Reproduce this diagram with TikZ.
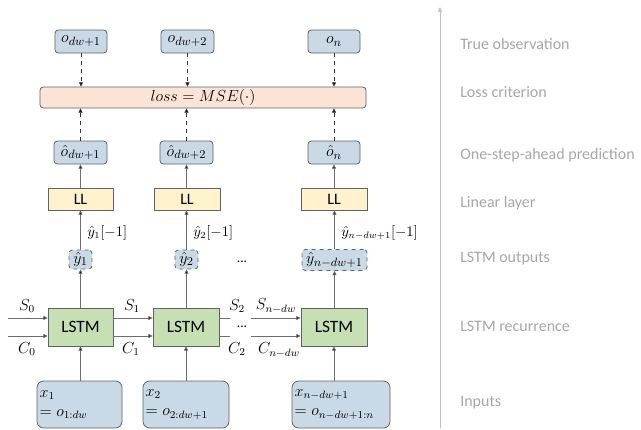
\documentclass[tikz,border=0pt]{standalone}
\usepackage{fontspec}
\setmainfont{Carlito}
\usetikzlibrary{arrows.meta}
\definecolor{boxblue}{HTML}{C9D9E5}
\definecolor{boxpeach}{HTML}{FBE4D6}
\definecolor{boxyellow}{HTML}{FFF2CC}
\definecolor{boxgreen}{HTML}{C6E0B4}
\definecolor{edgegray}{HTML}{5F6368}
\definecolor{linegray}{HTML}{6E6E6E}
\definecolor{axisgray}{HTML}{BFBFBF}
\definecolor{labelgray}{HTML}{A6A6A6}
\tikzset{
  base/.style={draw=edgegray, line width=0.6pt, inner sep=1pt, font=\fontsize{12.5}{14}\selectfont},
  obsbox/.style={base, fill=boxblue, rounded corners=2.5pt},
  lossbox/.style={base, fill=boxpeach, rounded corners=2.5pt},
  llbox/.style={base, fill=boxyellow, font=\fontsize{12}{14}\selectfont},
  lstmbox/.style={base, fill=boxgreen, font=\fontsize{13}{15}\selectfont},
  ybox/.style={base, fill=boxblue, dashed, rounded corners=2.5pt},
  inbox/.style={base, fill=boxblue, rounded corners=5pt, align=left, inner sep=2pt, font=\fontsize{12}{14.5}\selectfont},
  conn/.style={draw=linegray, line width=0.6pt, -{Triangle[length=3.2pt,width=3pt,fill=black]}},
  dconn/.style={conn, dashed, draw=black!80},
  plain/.style={draw=linegray, line width=0.6pt},
  sublabel/.style={font=\fontsize{10.5}{12}\selectfont, inner sep=0pt},
  statelabel/.style={font=\fontsize{12}{14}\selectfont, inner sep=0pt},
  rowlabel/.style={text=labelgray, anchor=west, inner sep=0pt, font=\fontsize{12}{14}\selectfont}
}
\begin{document}
\begin{tikzpicture}[x=0.75pt, y=-0.75pt]
\useasboundingbox (0,0) rectangle (641,429);

% observations
\node[obsbox, minimum width=39pt, minimum height=17.25pt] (obs1) at (81,41.5) {$o_{dw+1}$};
\node[obsbox, minimum width=39.75pt, minimum height=17.25pt] (obs2) at (187.5,41.5) {$o_{dw+2}$};
\node[obsbox, minimum width=39pt, minimum height=17.25pt] (obs3) at (334,41.5) {$o_{n}$};

% loss
\node[lossbox, minimum width=244.5pt, minimum height=15.75pt] (loss) at (203,97.5) {$loss = MSE(\cdot)$};

% predictions
\node[obsbox, minimum width=39.75pt, minimum height=17.25pt] (pred1) at (80.5,152.5) {$\hat{o}_{dw+1}$};
\node[obsbox, minimum width=39.75pt, minimum height=17.25pt] (pred2) at (186.5,152.5) {$\hat{o}_{dw+2}$};
\node[obsbox, minimum width=39pt, minimum height=17.25pt] (pred3) at (334,152.5) {$\hat{o}_{n}$};

% linear layers
\node[llbox, minimum width=48.75pt, minimum height=16.5pt] (ll1) at (80.5,199) {LL};
\node[llbox, minimum width=49.5pt, minimum height=16.5pt] (ll2) at (187,199) {LL};
\node[llbox, minimum width=49.5pt, minimum height=16.5pt] (ll3) at (334,199) {LL};

% LSTM outputs
\node[ybox, minimum width=17.25pt, minimum height=14.25pt] (y1) at (80.5,259.5) {$\hat{y}_1$};
\node[ybox, minimum width=17.25pt, minimum height=14.25pt] (y2) at (186.5,259.5) {$\hat{y}_2$};
\node[ybox, minimum width=48.75pt, minimum height=15.75pt] (y3) at (334.5,260) {$\hat{y}_{n-dw+1}$};
\node[inner sep=0pt] (ydots) at (242,262) {...};

% LSTM cells
\node[lstmbox, minimum width=48.75pt, minimum height=28.5pt] (c1) at (80.5,327) {LSTM};
\node[lstmbox, minimum width=49.5pt, minimum height=28.5pt] (c2) at (186,327) {LSTM};
\node[lstmbox, minimum width=49.5pt, minimum height=28.5pt] (c3) at (334,327) {LSTM};

% inputs
\node[inbox, minimum width=63.75pt, minimum height=35.25pt, text width=59.75pt] (x1) at (79.5,404.5) {$x_1$\\$= o_{1:dw}$};
\node[inbox, minimum width=64.5pt, minimum height=35.25pt, text width=60.5pt] (x2) at (186,404.5) {$x_2$\\$= o_{2:dw+1}$};
\node[inbox, minimum width=73.5pt, minimum height=35.25pt, text width=69.5pt] (x3) at (341,404.5) {$x_{n-dw+1}$\\$= o_{n-dw+1:n}$};

% vertical flow in each column
\foreach \i in {1,2,3} {
  \draw[dconn] (obs\i.south) -- (obs\i.south |- loss.north);
  \draw[dconn] (pred\i.north) -- (pred\i.north |- loss.south);
  \draw[conn] (ll\i.north -| pred\i) -- (pred\i.south);
  \draw[conn] (y\i.north) -- (y\i.north |- ll\i.south);
  \draw[conn] (c\i.north -| y\i) -- (y\i.south);
  \draw[conn] (x\i.north -| c\i) -- (c\i.south);
}

% output labels
\node[sublabel, anchor=west] (lab1) at (87,233) {$\hat{y}_1[-1]$};
\node[sublabel, anchor=west] (lab2) at (193,233) {$\hat{y}_2[-1]$};
\node[sublabel, anchor=west] (lab3) at (341,233) {$\hat{y}_{n-dw+1}[-1]$};

% recurrent states
\coordinate (s0) at (8,318);
\coordinate (k0) at (8,336);
\coordinate (s2) at (230,318);
\coordinate (k2) at (230,336);
\coordinate (sn) at (251,318);
\coordinate (kn) at (251,336);
\draw[conn] (s0) -- (s0 -| c1.west);
\draw[conn] (k0) -- (k0 -| c1.west);
\draw[conn] (s0 -| c1.east) -- (s0 -| c2.west);
\draw[conn] (k0 -| c1.east) -- (k0 -| c2.west);
\draw[plain] (s2 -| c2.east) -- (s2);
\draw[plain] (k2 -| c2.east) -- (k2);
\draw[conn] (sn) -- (sn -| c3.west);
\draw[conn] (kn) -- (kn -| c3.west);
\node[inner sep=0pt] (sdots) at (242,327) {...};

\node[statelabel] (ls0) at (27,306) {$S_0$};
\node[statelabel] (lc0) at (27,349) {$C_0$};
\node[statelabel] (ls1) at (132,306) {$S_1$};
\node[statelabel] (lc1) at (131,349) {$C_1$};
\node[statelabel] (ls2) at (237,306) {$S_2$};
\node[statelabel] (lc2) at (237,349) {$C_2$};
\node[statelabel] (lsn) at (276,306) {$S_{n-dw}$};
\node[statelabel] (lcn) at (279,350) {$C_{n-dw}$};

% level axis
\coordinate (axbot) at (440,428);
\coordinate (axtop) at (440,7);
\draw[draw=axisgray, line width=0.6pt, -{Triangle[length=3.5pt,width=3pt]}] (axbot) -- (axtop);

\node[rowlabel] (r1) at (460,44) {True observation};
\node[rowlabel] (r2) at (460,92) {Loss criterion};
\node[rowlabel] (r3) at (460,155) {One-step-ahead prediction};
\node[rowlabel] (r4) at (460,203) {Linear layer};
\node[rowlabel] (r5) at (460,259) {LSTM outputs};
\node[rowlabel] (r6) at (460,326) {LSTM recurrence};
\node[rowlabel] (r7) at (460,403) {Inputs};
\end{tikzpicture}
\end{document}
